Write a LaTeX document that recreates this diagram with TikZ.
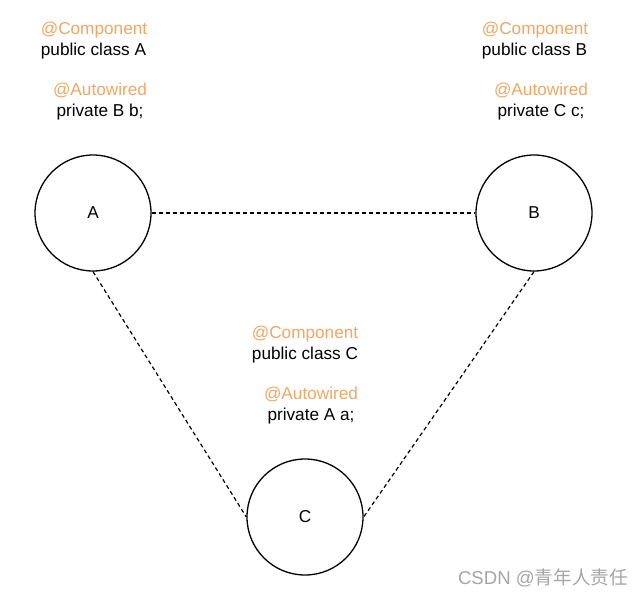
\documentclass[tikz,border=0pt]{standalone}
\usepackage{fontspec}
\setmainfont{Liberation Sans}
\newfontfamily\cjkfont{Noto Sans CJK SC}
\definecolor{annot}{RGB}{242,167,100}
\definecolor{wm}{RGB}{165,165,165}
\begin{document}
\begin{tikzpicture}[x=1pt,y=-1pt,
  txt/.style={anchor=base,inner sep=0pt,font=\fontsize{17.2}{20}\selectfont},
  ann/.style={txt,text=annot},
  bean/.style={circle,draw,line width=1.3pt,minimum size=116pt,inner sep=0pt,font=\fontsize{17.2}{20}\selectfont},
  dep/.style={dashed,dash pattern=on 4pt off 3pt,line width=1.2pt}]
\useasboundingbox[fill=white] (0,0) rectangle (644,596);
% block A
\node[ann] (acomp) at (94,35) {@Component};
\node[txt] (acls) at (93.5,56) {public class A};
\node[ann] (aaut) at (100,96) {@Autowired};
\node[txt] (afld) at (100,117) {private B b;};
% block B
\node[ann] (bcomp) at (535,35) {@Component};
\node[txt] (bcls) at (534.5,56) {public class B};
\node[ann] (baut) at (541,96) {@Autowired};
\node[txt] (bfld) at (541,117) {private C c;};
% block C
\node[ann] (ccomp) at (305,338) {@Component};
\node[txt] (ccls) at (305,359) {public class C};
\node[ann] (caut) at (311,399) {@Autowired};
\node[txt] (cfld) at (311,420) {private A a;};
% beans
\node[bean] (A) at (93,213) {A};
\node[bean] (B) at (534,213) {B};
\node[bean] (C) at (305,517) {C};
\draw[dep] (A.east) -- (B.west);
\draw[dep] (A.south) -- (C.west);
\draw[dep] (B.south) -- (C.east);
% watermark
\node[txt,text=wm,anchor=base east,font=\fontsize{18.6}{22}\selectfont] (wmark) at (628,584) {CSDN @{\cjkfont 青年人责任}};
\end{tikzpicture}
\end{document}
